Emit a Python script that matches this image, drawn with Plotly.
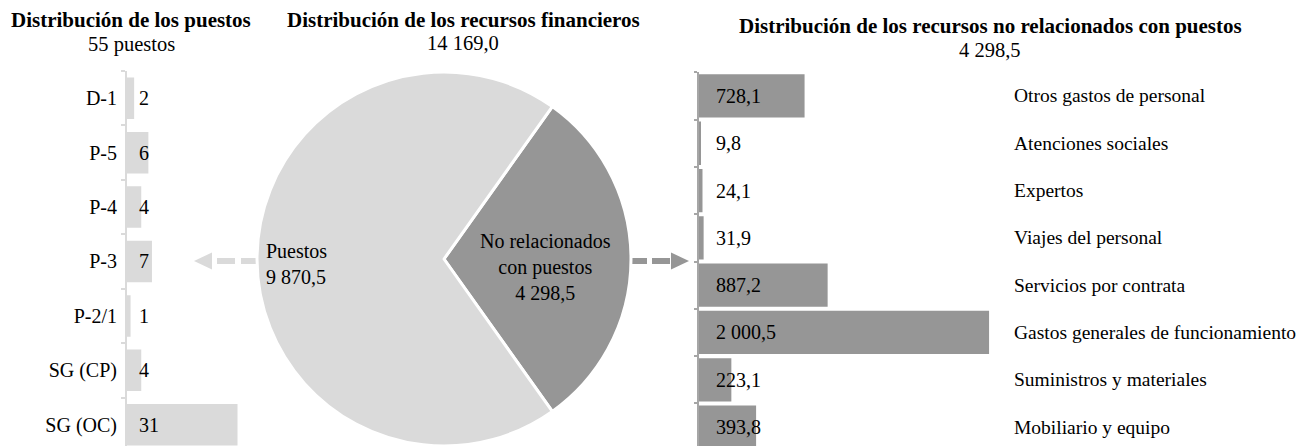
import plotly.graph_objects as go

# The page body has an 8px margin; the figure is sized to fit the window.
OX, OY = 8, 8
W, H = 1309 - OX, 446 - OY
FONT = "Liberation Serif"

# ---------------- data ----------------
post_grades = ["D-1", "P-5", "P-4", "P-3", "P-2/1", "SG (CP)", "SG (OC)"]
post_counts = [2, 6, 4, 7, 1, 4, 31]
total_posts = 55

pie_labels = ["No relacionados<br>con puestos", "Puestos"]
pie_values = [4298.5, 9870.5]
total_resources = 14169.0

nonpost_items = ["Otros gastos de personal", "Atenciones sociales", "Expertos",
                 "Viajes del personal", "Servicios por contrata",
                 "Gastos generales de funcionamiento", "Suministros y materiales",
                 "Mobiliario y equipo"]
nonpost_values = [728.1, 9.8, 24.1, 31.9, 887.2, 2000.5, 223.1, 393.8]
nonpost_total = 4298.5

titles = ["Distribución de los puestos",
          "Distribución de los recursos financieros",
          "Distribución de los recursos no relacionados con puestos"]

LIGHT = "#dadada"
DARK = "#969696"


def fmt(v, dec=1):
    s = f"{v:,.{dec}f}"
    return s.replace(",", " ").replace(".", ",")


def px(x):  # screen pixel -> paper
    return (x - OX) / W


def py(y):
    return 1 - (y - OY) / H


fig = go.Figure()

# left bar chart (posts)
fig.add_trace(go.Bar(
    x=post_counts, y=post_grades, orientation="h", xaxis="x", yaxis="y",
    marker=dict(color=LIGHT, line=dict(width=0)), width=0.763,
    hoverinfo="skip"))

# pie
frac = pie_values[0] / sum(pie_values)
fig.add_trace(go.Pie(
    values=pie_values, labels=pie_labels, sort=False, direction="clockwise",
    rotation=90 - 180 * frac, textinfo="none",
    marker=dict(colors=[DARK, LIGHT], line=dict(color="white", width=3)),
    domain=dict(x=[px(444 - 187), px(444 + 187)], y=[0, py(72)]),
    hoverinfo="skip", showlegend=False))

# right bar chart (non-post)
fig.add_trace(go.Bar(
    x=nonpost_values, y=nonpost_items, orientation="h", xaxis="x2", yaxis="y2",
    marker=dict(color=DARK, line=dict(width=0)), width=0.915,
    hoverinfo="skip"))

L_SCALE = 3.565
R_SCALE = 0.145
fig.update_layout(
    width=W, height=H, margin=dict(l=0, r=0, t=0, b=0),
    paper_bgcolor="white", plot_bgcolor="white", showlegend=False,
    font=dict(family=FONT, size=20, color="black"),
    xaxis=dict(domain=[px(127), px(127 + 35 * L_SCALE)], range=[0, 35],
               showticklabels=False, showgrid=False, zeroline=False,
               showline=False, ticks=""),
    yaxis=dict(domain=[0, py(71)], type="category", categoryarray=post_grades,
               range=[6.39, -0.5], showline=True, linecolor=LIGHT, linewidth=2,
               ticks="outside", tickson="boundaries", ticklen=4,
               tickcolor=LIGHT, tickwidth=1.5, showgrid=False,
               ticklabelstandoff=4,
               tickfont=dict(family=FONT, size=20, color="black"),
               anchor="x"),
    xaxis2=dict(domain=[px(699), px(699 + 2200 * R_SCALE)], range=[0, 2200],
                showticklabels=False, showgrid=False, zeroline=False,
                showline=False, ticks="", anchor="y2"),
    yaxis2=dict(domain=[0, py(72.3)], type="category",
                categoryarray=nonpost_items, range=[7.4, -0.5],
                showline=True, linecolor="#a6a6a6", linewidth=2,
                ticks="outside", tickson="boundaries", ticklen=3,
                tickcolor="#a6a6a6", tickwidth=1.5, showgrid=False,
                showticklabels=False, anchor="x2"),
)

ann = []
# bar value labels
for g, c in zip(post_grades, post_counts):
    ann.append(dict(x=0, y=g, xref="x", yref="y", text=str(c), showarrow=False,
                    xanchor="left", xshift=10, font=dict(size=20)))
for it, v in zip(nonpost_items, nonpost_values):
    ann.append(dict(x=0, y=it, xref="x2", yref="y2", text=fmt(v), showarrow=False,
                    xanchor="left", xshift=15, font=dict(size=20)))
    ann.append(dict(x=px(1012), y=it, xref="paper", yref="y2", text=it,
                    showarrow=False, xanchor="left", font=dict(size=19.5)))

# pie labels
ann.append(dict(x=px(264), y=py(264), xref="paper", yref="paper",
                text=f"{pie_labels[1]}<br>{fmt(pie_values[1])}", showarrow=False,
                xanchor="left", yanchor="middle", align="left",
                font=dict(size=20)))
ann.append(dict(x=px(545), y=py(267), xref="paper", yref="paper",
                text=f"{pie_labels[0]}<br>{fmt(pie_values[0])}", showarrow=False,
                xanchor="center", yanchor="middle", align="center",
                font=dict(size=20)))

# titles & subtitles
title_pos = [(131, 20, 44), (463, 20, 43), (990, 26.5, 49.5)]
subs = [f"{total_posts} puestos", fmt(total_resources), fmt(nonpost_total)]
for t, s, (cx, ty, sy) in zip(titles, subs, title_pos):
    ann.append(dict(x=px(cx), y=py(ty), xref="paper", yref="paper",
                    text=f"<b>{t}</b>", showarrow=False, xanchor="center",
                    yanchor="middle", borderpad=0, font=dict(size=21)))
    ann.append(dict(x=px(cx), y=py(sy), xref="paper", yref="paper",
                    text=s, showarrow=False, xanchor="center",
                    yanchor="middle", borderpad=0, font=dict(size=20.5)))
fig.update_layout(annotations=ann)

# dashed arrows
shapes = []
AY = 261
for x0, x1 in [(241, 256), (217, 235)]:
    shapes.append(dict(type="line", xref="paper", yref="paper",
                       x0=px(x0), x1=px(x1), y0=py(AY), y1=py(AY),
                       line=dict(color=LIGHT, width=6), layer="below"))
shapes.append(dict(type="path", xref="paper", yref="paper",
                   path=f"M {px(212)},{py(AY-8.5)} L {px(194)},{py(AY)} L {px(212)},{py(AY+8.5)} Z",
                   fillcolor=LIGHT, line=dict(width=0)))
for x0, x1 in [(630, 647), (652, 670)]:
    shapes.append(dict(type="line", xref="paper", yref="paper",
                       x0=px(x0), x1=px(x1), y0=py(AY), y1=py(AY),
                       line=dict(color=DARK, width=6), layer="below"))
shapes.append(dict(type="path", xref="paper", yref="paper",
                   path=f"M {px(671)},{py(AY-8.5)} L {px(689)},{py(AY)} L {px(671)},{py(AY+8.5)} Z",
                   fillcolor=DARK, line=dict(width=0)))
fig.update_layout(shapes=shapes)

fig.write_html("out.html")
